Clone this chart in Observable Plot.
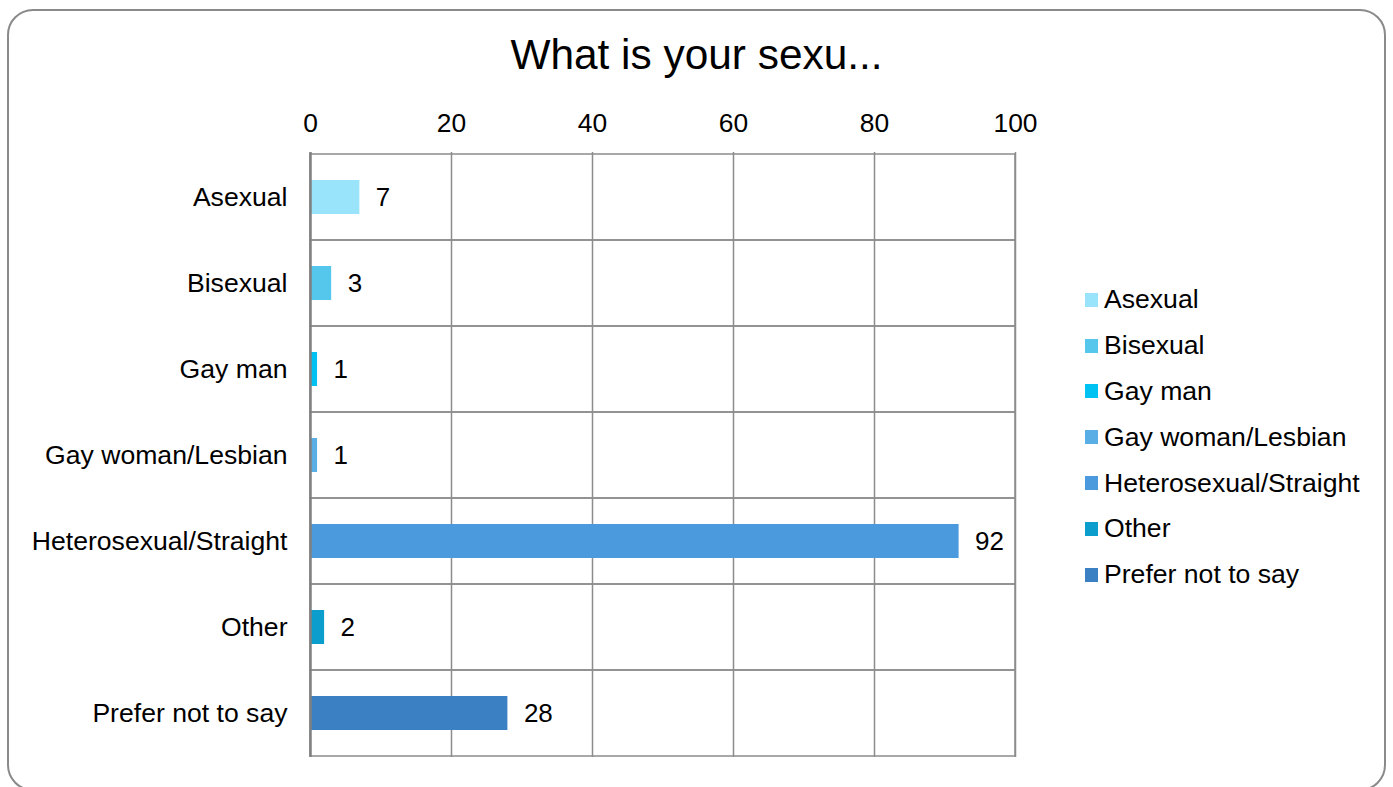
<!DOCTYPE html>
<html>
<head>
<meta charset="utf-8">
<script src="https://cdn.jsdelivr.net/npm/d3@7"></script>
<script src="https://cdn.jsdelivr.net/npm/@observablehq/plot@0.6"></script>
<style>
  html, body { margin: 0; padding: 0; background: #fff; }
  body { width: 1393px; height: 787px; position: relative; overflow: hidden; font-family: "Liberation Sans", Arial, sans-serif; }
  #frame { position: absolute; left: 7px; top: 9px; width: 1379px; height: 782px; border: 2px solid #8a8a8a; border-radius: 26px; box-sizing: border-box; z-index: 5; pointer-events: none; }
  #title { position: absolute; left: 0; width: 1393px; top: 34px; text-align: center; font-size: 42.4px; line-height: 1; color: #000; }
  #chart { position: absolute; left: 0; top: 90px; }
  #legend { position: absolute; left: 1085px; top: 277px; }
  .li { display: flex; align-items: center; height: 45.8px; font-size: 26.6px; color: #000; white-space: nowrap; }
  .sw { width: 13px; height: 14px; margin-right: 6px; }
</style>
</head>
<body>
<div id="frame"></div>
<div id="title">What is your sexu...</div>
<div id="chart"></div>
<div id="legend"></div>
<script>
const categories = ["Asexual", "Bisexual", "Gay man", "Gay woman/Lesbian", "Heterosexual/Straight", "Other", "Prefer not to say"];
const values = [7, 3, 1, 1, 92, 2, 28];
const colors = ["#99e3fb", "#55c7ec", "#00c2f2", "#5aaee6", "#4b9ade", "#0b9dcb", "#3b80c2"];
const xTicks = [0, 20, 40, 60, 80, 100];

const data = categories.map((c, i) => ({category: c, value: values[i], color: colors[i]}));

const chart = Plot.plot({
  width: 1060,
  height: 697,
  marginLeft: 310,
  marginRight: 45,
  marginTop: 62,
  marginBottom: 30,
  style: {fontFamily: "'Liberation Sans', Arial, sans-serif", fontSize: "26.5px", color: "#000", background: "transparent"},
  x: {domain: [0, 100], ticks: xTicks, axis: null},
  y: {domain: categories, padding: 0, axis: null},
  color: {domain: categories, range: colors},
  marks: [
    Plot.barX(categories, {y: d => d, x1: 0, x2: 100, fill: "none", stroke: "#8c8c8c", strokeWidth: 1.5}),
    Plot.ruleX(xTicks.slice(1), {stroke: "#8c8c8c", strokeWidth: 1.5}),
    Plot.barX(data, {y: "category", x: "value", fill: "category", insetTop: 26, insetBottom: 26}),
    Plot.ruleX([0], {stroke: "#808080", strokeWidth: 2.5}),
    Plot.text(data, {y: "category", x: "value", text: d => String(d.value), textAnchor: "start", dx: 16, fill: "#000", fontSize: 26}),
    Plot.axisX({anchor: "top", ticks: xTicks, tickSize: 0, tickPadding: 21, fontSize: 26.4, label: null, tickFormat: d => String(d)}),
    Plot.axisY({anchor: "left", tickSize: 0, tickPadding: 23, fontSize: 26.6, label: null})
  ]
});
document.getElementById("chart").appendChild(chart);

const legend = document.getElementById("legend");
categories.forEach((c, i) => {
  const row = document.createElement("div");
  row.className = "li";
  const sw = document.createElement("div");
  sw.className = "sw";
  sw.style.background = colors[i];
  const t = document.createElement("span");
  t.textContent = c;
  row.appendChild(sw);
  row.appendChild(t);
  legend.appendChild(row);
});
</script>
</body>
</html>
